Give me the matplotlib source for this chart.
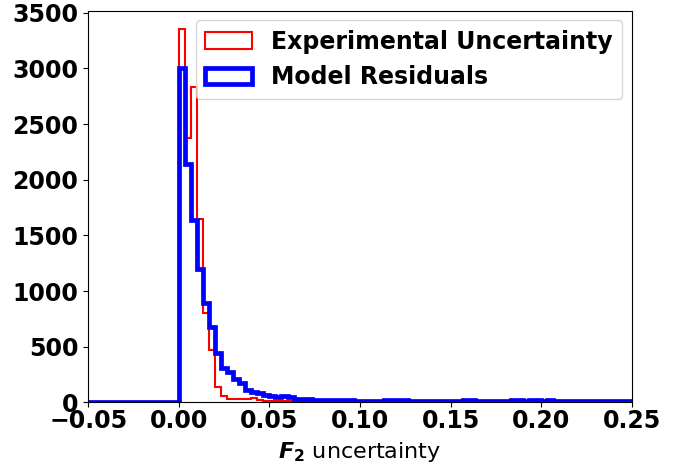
import numpy as np
import matplotlib
matplotlib.use('Agg')
import matplotlib.pyplot as plt

# histogram counts per bin, bins of width 0.3/90 starting at 0.0
exp_counts = [3352, 2375, 2832, 1651, 799, 469, 135, 57, 34, 32,
              28, 27, 36, 18, 16, 15, 14, 13, 12, 10,
              9, 8, 8, 7, 7, 6, 6, 6, 5, 5,
              5, 5, 4, 4, 4, 4, 4, 3, 3, 3,
              3, 3, 3, 3, 3, 2, 2, 2, 2, 2,
              2, 2, 2, 2, 2, 2, 2, 1, 1, 1,
              1, 1, 1, 1, 1, 1, 1, 1, 1, 1,
              1, 1, 1, 1, 1]
model_counts = [3000, 2145, 1636, 1200, 894, 676, 442, 308, 273, 206,
                170, 107, 93, 81, 70, 58, 51, 55, 50, 30,
                28, 27, 25, 22, 20, 19, 18, 18, 17, 16,
                16, 15, 15, 16, 20, 21, 20, 19, 14, 14,
                13, 14, 14, 13, 14, 14, 13, 19, 18, 14,
                13, 14, 13, 13, 14, 17, 17, 16, 17, 17,
                16, 17, 13, 12, 13, 13, 12, 13, 12, 13,
                12, 13, 12, 12, 13]

edges = np.linspace(-0.05, 0.25, 91)
centers = 0.5 * (edges[:-1] + edges[1:])
n_neg = 15  # empty bins below zero
exp_w = np.concatenate([np.zeros(n_neg), exp_counts])
mod_w = np.concatenate([np.zeros(n_neg), model_counts])

fig = plt.figure(figsize=(6.89, 4.63), dpi=100)
ax = fig.add_axes([0.128, 0.131, 0.789, 0.846])

ax.hist(centers, bins=edges, weights=exp_w, histtype='step',
        color='red', linewidth=1.5, label='Experimental Uncertainty')
ax.hist(centers, bins=edges, weights=mod_w, histtype='step',
        color='blue', linewidth=3.4, label='Model Residuals')

ax.set_xlim(-0.05, 0.25)
ax.set_xticks([-0.05, 0.0, 0.05, 0.10, 0.15, 0.20, 0.25])
ax.set_xticklabels(['\u22120.05', '0.00', '0.05', '0.10', '0.15', '0.20', '0.25'])
for lab in ax.get_xticklabels() + ax.get_yticklabels():
    lab.set_fontweight('bold')
    lab.set_fontsize(17)
ax.tick_params(axis='x', pad=1)

ax.set_xlabel(r'$\mathbfit{F}_\mathbf{2}$ uncertainty', fontsize=16, labelpad=5)
ax.legend(loc='upper right', prop={'weight': 'bold', 'size': 17},
          borderaxespad=0.4)

fig.savefig('out.png', dpi=100)
